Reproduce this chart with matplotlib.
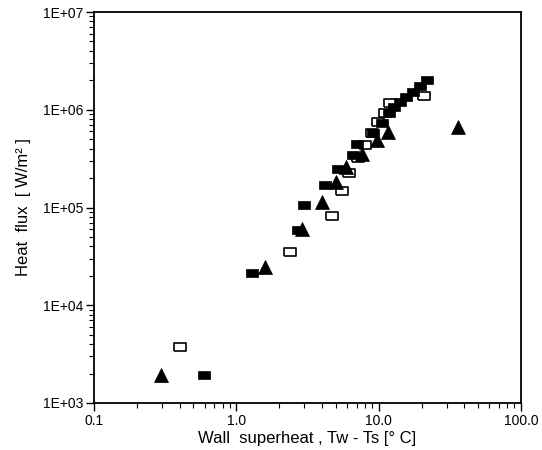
import matplotlib
matplotlib.use("Agg")
import matplotlib.pyplot as plt
from matplotlib.ticker import FixedLocator, NullFormatter, LogLocator

plt.rcParams['font.family'] = ['Liberation Sans', 'DejaVu Sans']

# Filled squares
sq_fill_x = [0.59, 1.29, 2.71, 2.99, 4.2, 5.19, 6.6, 7.05, 9.14, 10.6, 11.8, 12.8, 14.1, 15.6, 17.5, 19.5, 21.9]
sq_fill_y = [1950, 2.14e4, 5.9e4, 1.06e5, 1.70e5, 2.48e5, 3.44e5, 4.47e5, 5.8e5, 7.3e5, 9.3e5, 1.07e6, 1.20e6, 1.35e6, 1.52e6, 1.75e6, 2.01e6]

# Open squares
sq_open_x = [0.40, 2.38, 4.70, 5.53, 6.2, 7.16, 8.0, 9.0, 9.9, 11.1, 12.0, 20.8]
sq_open_y = [3740, 3.5e4, 8.2e4, 1.48e5, 2.25e5, 3.2e5, 4.4e5, 5.8e5, 7.5e5, 9.3e5, 1.17e6, 1.38e6]

# Filled triangles
tri_x = [0.296, 1.59, 2.90, 4.0, 5.0, 5.9, 7.6, 9.75, 11.6, 36.1]
tri_y = [1930, 2.46e4, 6.0e4, 1.14e5, 1.82e5, 2.6e5, 3.5e5, 4.9e5, 5.9e5, 6.7e5]

x_ticks = [0.1, 1.0, 10.0, 100.0]
x_labels = ['0.1', '1.0', '10.0', '100.0']
y_ticks = [1e3, 1e4, 1e5, 1e6, 1e7]
y_labels = ['1E+03', '1E+04', '1E+05', '1E+06', '1E+07']

fig = plt.figure(figsize=(5.42, 4.5), dpi=100)
ax = fig.add_axes([94/542, 1-403/450, (521-94)/542, (403-12)/450])

rect = [(-1, -0.68), (1, -0.68), (1, 0.68), (-1, 0.68), (-1, -0.68)]

ax.plot(sq_open_x, sq_open_y, linestyle='none', marker=rect, ms=8.5,
        mfc='white', mec='black', mew=1.2, zorder=3)
ax.plot(sq_fill_x, sq_fill_y, linestyle='none', marker=rect, ms=8.5,
        mfc='black', mec='black', mew=0.5, zorder=4)
ax.plot(tri_x, tri_y, linestyle='none', marker='^', ms=10,
        mfc='black', mec='black', mew=0.5, zorder=5)

ax.set_xscale('log')
ax.set_yscale('log')
ax.set_xlim(0.1, 100)
ax.set_ylim(1e3, 1e7)

ax.xaxis.set_major_locator(FixedLocator(x_ticks))
ax.set_xticklabels(x_labels)
ax.yaxis.set_major_locator(FixedLocator(y_ticks))
ax.set_yticklabels(y_labels)
ax.xaxis.set_minor_locator(LogLocator(base=10, subs=range(2, 10)))
ax.yaxis.set_minor_locator(LogLocator(base=10, subs=range(2, 10)))
ax.xaxis.set_minor_formatter(NullFormatter())
ax.yaxis.set_minor_formatter(NullFormatter())

ax.tick_params(which='major', direction='out', length=6, width=1.0, labelsize=10, pad=2)
ax.tick_params(which='minor', direction='out', length=3.5, width=0.8)
ax.tick_params(top=False, right=False, which='both')

for s in ax.spines.values():
    s.set_linewidth(1.3)
    s.set_color('black')

ax.set_xlabel('Wall  superheat , Tw - Ts [° C]', fontsize=12, labelpad=2)
ax.set_ylabel('Heat  flux  [ W/m² ]', fontsize=12, labelpad=8)

fig.savefig('out.png', dpi=100)
